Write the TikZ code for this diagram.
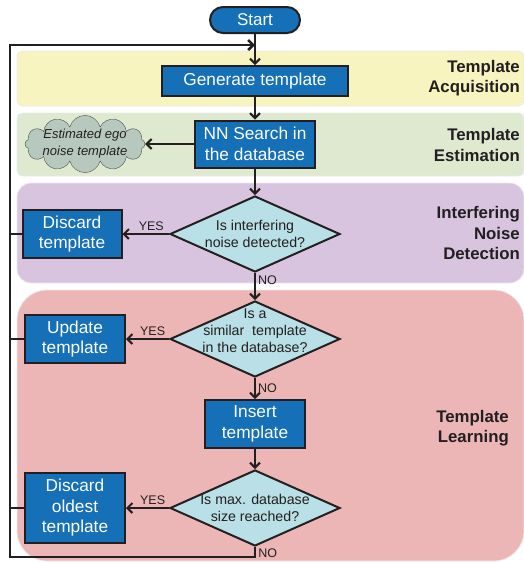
\documentclass[tikz,border=0pt]{standalone}
\usepackage{fontspec}
\setmainfont{Liberation Sans}
\usetikzlibrary{shapes.geometric, shapes.symbols, arrows.meta, positioning}
\definecolor{boxblue}{HTML}{1570B8}
\definecolor{linedark}{HTML}{231F20}
\definecolor{askcyan}{HTML}{B9E0E6}
\definecolor{bandyellow}{HTML}{F7F4BF}
\definecolor{bandgreen}{HTML}{DEE9D0}
\definecolor{bandpurple}{HTML}{D8C4DF}
\definecolor{bandred}{HTML}{EDB6B6}
\definecolor{cloudgray}{HTML}{B7C9BE}

\begin{document}
\begin{tikzpicture}[x=1pt, y=-1pt, node distance=60pt, >={Straight Barb[length=5pt,width=10pt]}]
\tikzstyle{band} = [draw=black!8, line width=0.8pt]
\tikzstyle{terminal} = [rectangle, rounded corners=13pt, draw=linedark, line width=2pt, fill=boxblue, text=white, minimum width=90pt, minimum height=26pt, font=\fontsize{17}{20}\selectfont]
\tikzstyle{process} = [rectangle, draw=linedark, line width=2pt, fill=boxblue, text=white, align=center, inner sep=0pt, font=\fontsize{17.3}{20.5}\selectfont]
\tikzstyle{decision} = [diamond, draw=linedark, line width=2pt, fill=askcyan, text=linedark, align=center, aspect=2.24, minimum width=170pt, minimum height=76pt, inner sep=-15pt, font=\fontsize{14.2}{17}\selectfont]
\tikzstyle{phase} = [align=right, anchor=east, inner sep=0pt, text=linedark, font=\bfseries\fontsize{16.8}{20.5}\selectfont]
\tikzstyle{answer} = [inner sep=2pt, text=linedark, font=\fontsize{12.5}{14}\selectfont]
\tikzstyle{flow} = [->, draw=linedark, line width=2pt]
\tikzstyle{loopline} = [draw=linedark, line width=2.6pt]

\useasboundingbox (0,0) rectangle (524,563);

\filldraw[band, fill=bandyellow, rounded corners=5pt] (17,51) rectangle (524,106);
\filldraw[band, fill=bandgreen, rounded corners=5pt] (17,113) rectangle (524,176);
\filldraw[band, fill=bandpurple, rounded corners=14pt] (17,183) rectangle (524,283);
\filldraw[band, fill=bandred, rounded corners=30pt] (17,290) rectangle (524,561);

\node (start) [terminal] at (255,20) {Start};
\node (generate) [process, minimum width=186pt, minimum height=30pt, node distance=61pt, below of=start] {Generate template};
\node (nnsearch) [process, minimum width=120pt, minimum height=47pt, node distance=63pt, below of=generate] {NN Search in\\the database};
\node (egonoise) [cloud, cloud puffs=12, aspect=2.8, draw=linedark!80, fill=cloudgray, minimum width=120pt, minimum height=46pt, inner sep=-5pt, align=center, text=linedark, font=\itshape\fontsize{13}{17}\selectfont, node distance=170pt, left of=nnsearch] {Estimated ego\\noise template};
\node (interfere) [decision, node distance=90pt, below of=nnsearch] {Is interfering\\noise detected?};
\node (discard) [process, minimum width=99pt, minimum height=48pt, node distance=183pt, left of=interfere] {Discard\\template};
\node (similar) [decision, text depth=16pt, node distance=105pt, below of=interfere] {Is a\\similar\ \ template\\in the database?};
\node (update) [process, minimum width=100pt, minimum height=48pt, node distance=180pt, left of=similar] {Update\\template};
\node (insert) [process, minimum width=100pt, minimum height=48pt, node distance=85pt, below of=similar] {Insert\\template};
\node (maxsize) [decision, node distance=84pt, below of=insert] {Is max. database\\size reached?};
\node (oldest) [process, minimum width=100pt, minimum height=70pt, node distance=180pt, left of=maxsize] {Discard\\oldest\\template};

\node (acquisition) [phase] at (520,78) {Template\\Acquisition};
\node (estimation) [phase] at (520,145) {Template\\Estimation};
\node (detection) [phase] at (520,233) {Interfering\\Noise\\Detection};
\node (learning) [phase] at (509,428) {Template\\Learning};

\coordinate (merge) at (255,45);
\coordinate (looptop) at (10,45);
\coordinate (loopbot) at (10,557);

\draw[flow] (start) -- (generate);
\draw[flow] (generate) -- (nnsearch);
\draw[flow] (nnsearch) -- (egonoise);
\draw[flow] (nnsearch) -- (interfere);
\draw[flow] (interfere) -- node[answer, above, pos=0.38] {YES} (discard);
\draw[flow] (interfere) -- node[answer, right, pos=0.25] {NO} (similar);
\draw[flow] (similar) -- node[answer, above, pos=0.38] {YES} (update);
\draw[flow] (similar) -- node[answer, right, pos=0.5] {NO} (insert);
\draw[flow] (insert) -- (maxsize);
\draw[flow] (maxsize) -- node[answer, above, pos=0.38] {YES} (oldest);
\draw[loopline, ->] (maxsize.south) -- node[answer, right, pos=0.6] {NO} (maxsize.south |- loopbot) -- (loopbot) -- (looptop) -- (merge);
\draw[loopline] (discard.west) -- (discard.west -| looptop);
\draw[loopline] (update.west) -- (update.west -| looptop);
\draw[loopline] (oldest.west) -- (oldest.west -| looptop);

\end{tikzpicture}
\end{document}
